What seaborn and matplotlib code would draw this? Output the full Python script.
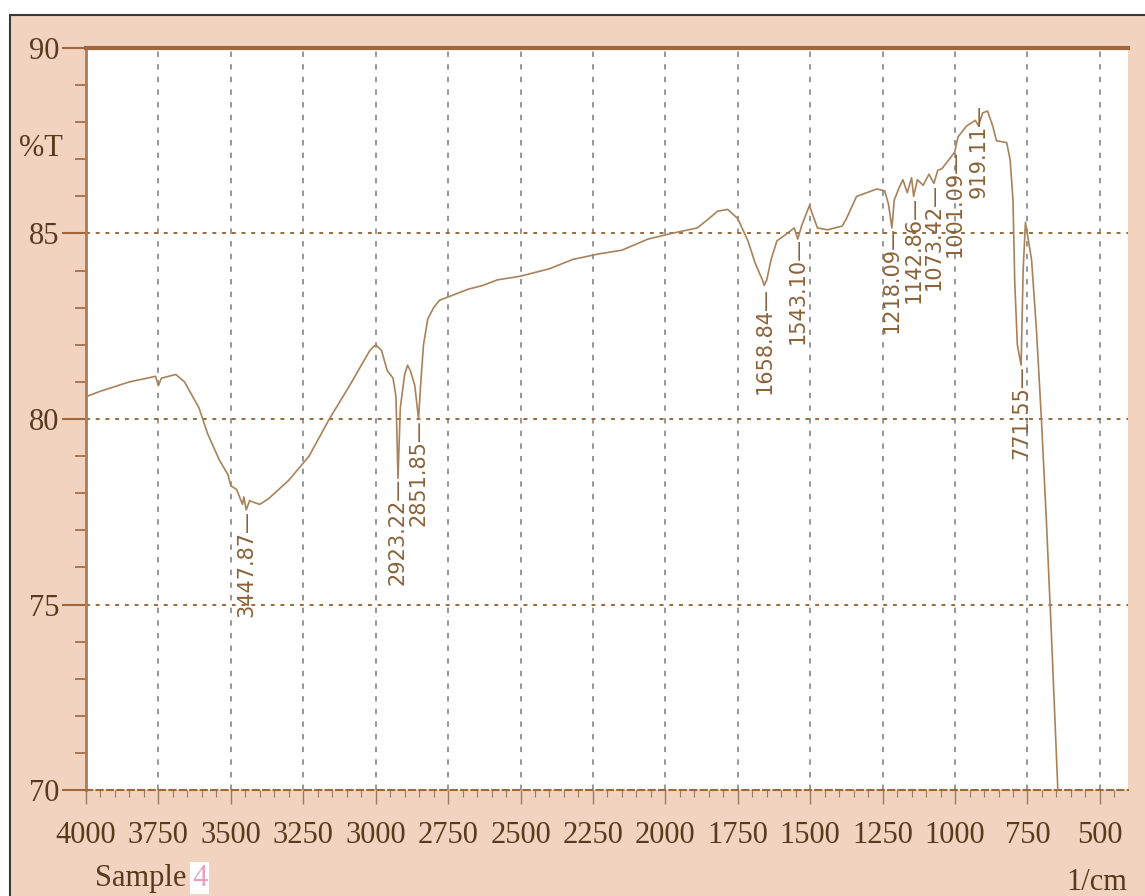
import numpy as np
import pandas as pd
import seaborn as sns
import matplotlib.pyplot as plt
from matplotlib.patches import Rectangle
from matplotlib.ticker import MultipleLocator

# IR spectrum
wavenumber = [4000, 3950, 3850, 3760, 3750, 3740, 3690, 3660, 3610, 3580, 3540, 3510,
              3500, 3480, 3460, 3455, 3447, 3435, 3420, 3400, 3370, 3300, 3230, 3160,
              3090, 3020, 3000, 2980, 2960, 2940, 2930, 2923, 2915, 2900, 2890, 2880,
              2865, 2852, 2845, 2835, 2820, 2800, 2780, 2730, 2680, 2630, 2580, 2500,
              2400, 2320, 2230, 2150, 2060, 1980, 1890, 1850, 1820, 1785, 1750, 1715,
              1690, 1665, 1659, 1650, 1635, 1615, 1580, 1555, 1543, 1530, 1503, 1475,
              1440, 1390, 1375, 1340, 1270, 1243, 1230, 1218, 1210, 1195, 1180, 1165,
              1150, 1143, 1130, 1110, 1090, 1073, 1060, 1045, 1020, 1001, 990, 960,
              930, 919, 905, 888, 870, 857, 822, 810, 800, 794, 785, 772, 765, 757,
              736, 719, 702, 685, 668, 651, 640]
transmittance = [80.6, 80.75, 81.0, 81.15, 80.9, 81.1, 81.2, 81.0, 80.3, 79.6, 78.9, 78.5,
                 78.2, 78.1, 77.7, 77.9, 77.55, 77.8, 77.75, 77.7, 77.85, 78.35, 79.0, 80.0,
                 80.9, 81.85, 82.0, 81.85, 81.3, 81.1, 80.6, 78.4, 80.3, 81.2, 81.45, 81.3,
                 80.9, 80.0, 80.9, 82.0, 82.7, 83.0, 83.2, 83.35, 83.5, 83.6, 83.75, 83.85,
                 84.05, 84.3, 84.45, 84.55, 84.85, 85.0, 85.15, 85.4, 85.6, 85.65, 85.4, 84.8,
                 84.2, 83.75, 83.6, 83.75, 84.3, 84.8, 85.0, 85.15, 84.85, 85.2, 85.75, 85.15,
                 85.1, 85.2, 85.4, 86.0, 86.2, 86.15, 85.8, 85.15, 85.9, 86.2, 86.45, 86.1,
                 86.5, 86.0, 86.45, 86.3, 86.6, 86.35, 86.7, 86.75, 87.0, 87.2, 87.6, 87.9,
                 88.05, 87.9, 88.25, 88.3, 87.9, 87.5, 87.45, 87.0, 85.9, 83.7, 82.0, 81.45,
                 84.0, 85.3, 84.3, 82.4, 80.0, 77.3, 74.3, 71.1, 69.0]

peak_wn = [3447.87, 2923.22, 2851.85, 1658.84, 1543.10, 1218.09, 1142.86, 1073.42,
           1001.09, 919.11, 771.55]
peak_t = [77.55, 78.4, 80.0, 83.55, 84.9, 85.2, 86.0, 86.35, 87.25, 88.5, 81.45]

x_ticks = [4000, 3750, 3500, 3250, 3000, 2750, 2500, 2250, 2000, 1750, 1500, 1250, 1000, 750, 500]
y_ticks = [70, 75, 80, 85, 90]

brown = '#a0673c'
text_brown = '#5a3a1e'
line_col = '#a8825a'
peach = '#f1d3c0'

df = pd.DataFrame({'wn': wavenumber, 'T': transmittance})

sns.set_style('white')
plt.rcParams['font.family'] = ['Liberation Serif', 'DejaVu Serif']

fig = plt.figure(figsize=(11.45, 8.96), dpi=100)
fig.patch.set_facecolor('white')
fig.patches.append(Rectangle((10 / 1145, -0.01), 1.0, 1 - 15 / 896 + 0.01,
                             transform=fig.transFigure, facecolor=peach,
                             edgecolor='#3a3a3a', linewidth=1.5, zorder=-10))

ax = fig.add_axes([86 / 1145, 1 - 790 / 896, (1128 - 86) / 1145, (790 - 48) / 896])
ax.set_facecolor('white')

sns.lineplot(data=df, x='wn', y='T', sort=False, estimator=None, color=line_col,
             linewidth=1.2, ax=ax, zorder=3)

ax.set_xlim(4000, 403)
ax.set_ylim(70, 90)
ax.set_xlabel('')
ax.set_ylabel('')

ax.set_xticks(x_ticks)
ax.set_xticklabels([str(t) for t in x_ticks])
ax.set_yticks(y_ticks)
ax.set_yticklabels([str(t) for t in y_ticks])
ax.xaxis.set_minor_locator(MultipleLocator(50))
ax.yaxis.set_minor_locator(MultipleLocator(1))

ax.tick_params(axis='x', which='major', direction='out', length=10, width=1,
               color='#9a7a60', labelsize=22, labelcolor=text_brown, pad=12, bottom=True)
ax.tick_params(axis='x', which='minor', direction='out', length=5, width=0.8,
               color='#9a7a60', bottom=True)
ax.tick_params(axis='y', which='major', direction='out', length=17, width=1.5,
               color=brown, labelsize=22, labelcolor=text_brown, pad=2, left=True)
ax.tick_params(axis='y', which='minor', direction='out', length=8, width=1.2,
               color=brown, left=True)

# grid
for x in x_ticks[1:]:
    ax.axvline(x, color='#8f8f8f', linestyle=(0, (3, 4)), linewidth=1.3, zorder=1)
for y in [75, 80, 85]:
    ax.axhline(y, color='#9a6a3a', linestyle=(0, (2, 3)), linewidth=1.4, zorder=1)

ax.spines['top'].set_color(brown)
ax.spines['top'].set_linewidth(3)
ax.spines['left'].set_color('#b07a50')
ax.spines['left'].set_linewidth(2)
ax.spines['right'].set_visible(False)
ax.spines['bottom'].set_color('#9a6a3a')
ax.spines['bottom'].set_linestyle((0, (3, 2)))
ax.spines['bottom'].set_linewidth(1.5)

# peak labels
for wn, t in zip(peak_wn, peak_t):
    ax.text(wn, t, f'{wn:.2f}\u2014', rotation=90, ha='center', va='top',
            fontsize=15, color='#8a6239', family=['DejaVu Sans'], zorder=4)

fig.text(63 / 1145, 1 - 148 / 896, '%T', ha='right', va='center', fontsize=22,
         color=text_brown)
fig.text(95 / 1145, 1 - 878 / 896, 'Sample', ha='left', va='center', fontsize=22,
         color=text_brown)
fig.text(192 / 1145, 1 - 878 / 896, '4', ha='left', va='center', fontsize=22,
         color='#e8a0c0', bbox=dict(facecolor='white', edgecolor='none', pad=1))
fig.text(1127 / 1145, 1 - 882 / 896, '1/cm', ha='right', va='center', fontsize=22,
         color=text_brown)

fig.savefig('out.png', dpi=100)
